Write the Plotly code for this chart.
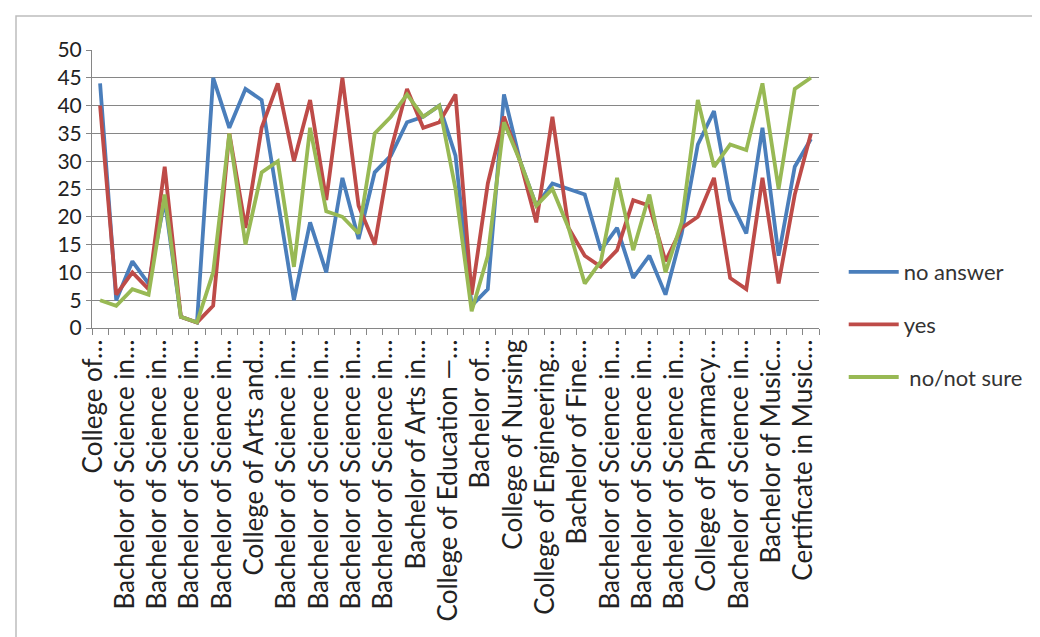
import plotly.graph_objects as go

# Category tick labels (every other category is labelled, as in the original)
tick_labels = [
    "College of…",
    "Bachelor of Science in…",
    "Bachelor of Science in…",
    "Bachelor of Science in…",
    "Bachelor of Science in…",
    "College of Arts and…",
    "Bachelor of Science in…",
    "Bachelor of Science in…",
    "Bachelor of Science in…",
    "Bachelor of Science in…",
    "Bachelor of Arts in…",
    "College of Education —…",
    "Bachelor of…",
    "College of Nursing",
    "College of Engineering…",
    "Bachelor of Fine…",
    "Bachelor of Science in…",
    "Bachelor of Science in…",
    "Bachelor of Science in…",
    "College of Pharmacy…",
    "Bachelor of Science in…",
    "Bachelor of Music…",
    "Certificate in Music…",
]

categories = list(range(45))

no_answer = [44, 5, 12, 8, 23, 2, 1, 45, 36, 43, 41, 23, 5, 19, 10, 27, 16, 28, 31, 37, 38, 40, 31,
             4, 7, 42, 30, 22, 26, 25, 24, 14, 18, 9, 13, 6, 17, 33, 39, 23, 17, 36, 13, 29, 34]
yes = [40, 6, 10, 7, 29, 2, 1, 4, 35, 18, 36, 44, 30, 41, 23, 45, 22, 15, 32, 43, 36, 37, 42,
       6, 26, 38, 30, 19, 38, 18, 13, 11, 14, 23, 22, 12, 18, 20, 27, 9, 7, 27, 8, 24, 35]
no_not_sure = [5, 4, 7, 6, 24, 2, 1, 10, 35, 15, 28, 30, 11, 36, 21, 20, 17, 35, 38, 42, 38, 40, 25,
               3, 13, 37, 30, 22, 25, 18, 8, 12, 27, 14, 24, 10, 19, 41, 29, 33, 32, 44, 25, 43, 45]

series = [
    ("no answer", no_answer, "#4A7EBB"),
    ("yes", yes, "#BE4B48"),
    (" no/not sure", no_not_sure, "#98B954"),
]

FONT = "Lato"
fig = go.Figure()
for i, (name, vals, col) in enumerate(series):
    fig.add_trace(go.Scatter(
        x=categories, y=vals, mode="lines", name=name,
        line=dict(color=col, width=3.8),
        legendgroup=f"g{i}",
    ))

W, H = 1040, 637
L, R, T, B = 84, 811, 42, 320
fig.update_layout(
    width=W, height=H,
    margin=dict(l=L, r=W - R, t=T, b=H - B, pad=0),
    paper_bgcolor="white", plot_bgcolor="white",
    font=dict(family=FONT, size=20, color="#222222"),
    showlegend=True,
    legend=dict(
        x=1.034, xanchor="left", y=0.277, yanchor="top",
        font=dict(family=FONT, size=22, color="#333333"),
        tracegroupgap=21, itemwidth=50,
        bgcolor="rgba(0,0,0,0)",
    ),
    xaxis=dict(
        range=[-0.5, 44.5],
        tickvals=categories[::2], ticktext=tick_labels,
        tickangle=-90, ticks="", showgrid=False, zeroline=False,
        showline=True, linecolor="#868686", linewidth=1,
        tickfont=dict(family=FONT, size=26, color="#222222"),
        ticklabelshift=-7,
        minor=dict(tickvals=[c - 0.5 for c in categories] + [44.5], ticks="outside",
                   ticklen=6, tickcolor="#868686", showgrid=False),
    ),
    yaxis=dict(
        range=[0, 50], dtick=5, tick0=0,
        showgrid=True, gridcolor="#868686", gridwidth=1,
        zeroline=False, showline=True, linecolor="#868686", linewidth=1,
        ticks="outside", ticklen=5, tickcolor="#868686",
        tickfont=dict(family=FONT, size=21, color="#222222"),
    ),
)

# outer chart border
fig.add_shape(type="rect", xref="paper", yref="paper",
              x0=(8 - L) / (R - L), x1=(1031 - L) / (R - L),
              y0=(B - 631) / (B - T), y1=(B - 8) / (B - T),
              line=dict(color="#BDBDBD", width=1.5), fillcolor="rgba(0,0,0,0)", layer="below")

fig.write_html("out.html")
